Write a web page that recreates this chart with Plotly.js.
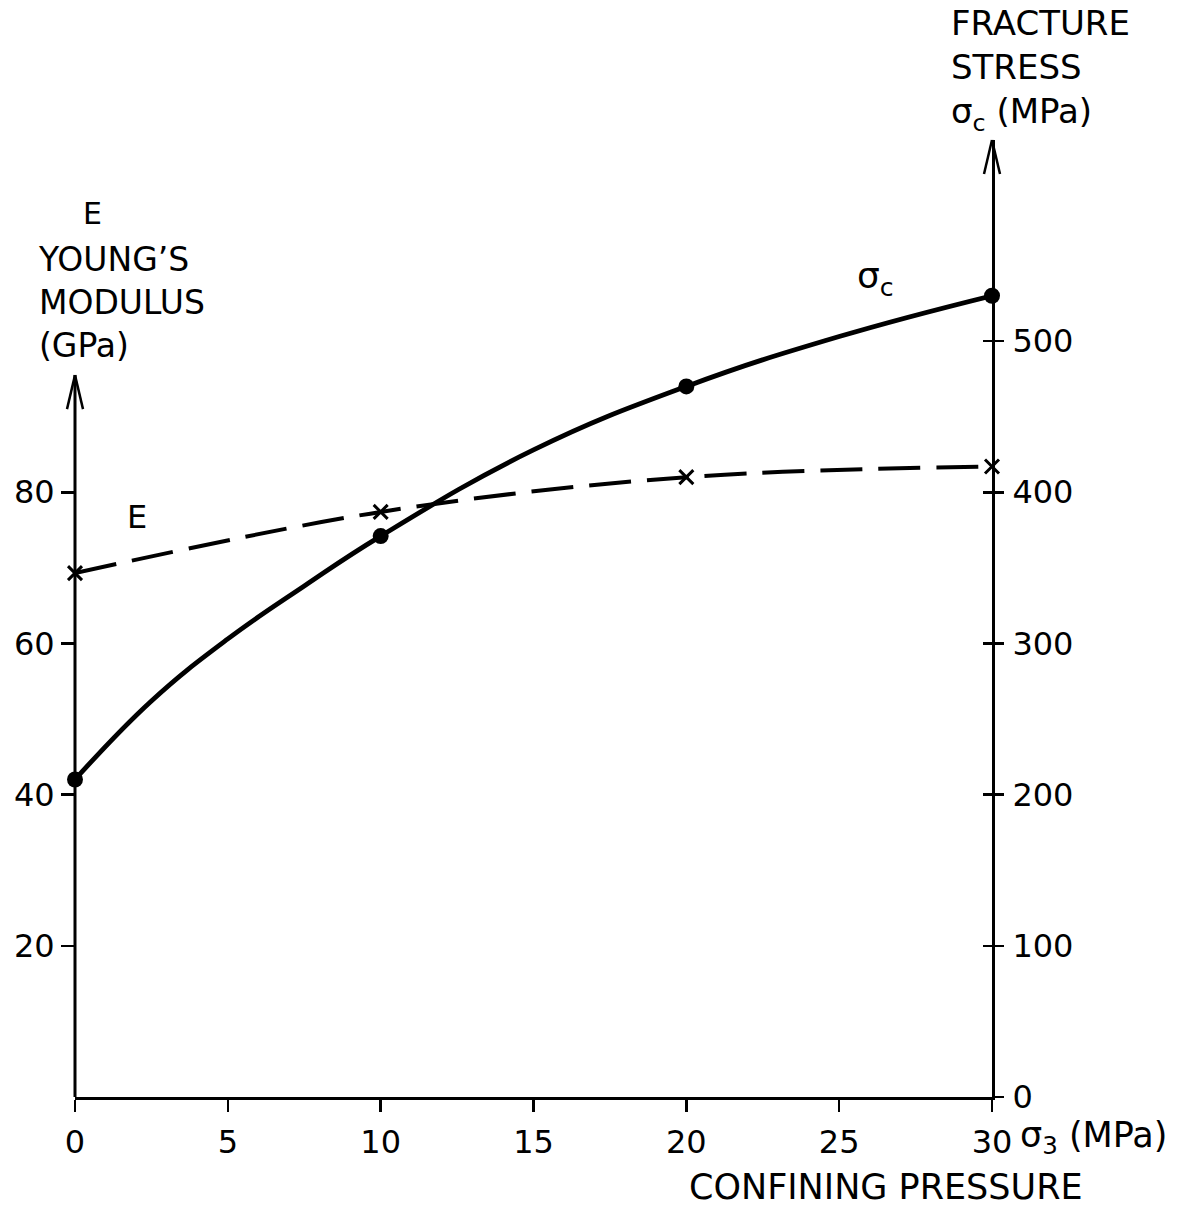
<!DOCTYPE html>
<html><head><meta charset="utf-8">
<script src="https://cdn.plot.ly/plotly-3.0.1.min.js"></script>
<style>html,body{margin:0;padding:0;background:#fff}</style>
</head><body><div id="chart" style="width:1200px;height:1209px"></div>
<script>
const confiningPressure = [0, 10, 20, 30];          // sigma_3 (MPa)
const youngsModulus = [69.3, 77.4, 82.0, 83.4];     // E (GPa)
const fractureStress = [210, 371, 470, 530];        // sigma_c (MPa)
// Hand-drawn sigma_c curve at these pressures
const sigmaCurveX = [0, 2.5, 5, 7.5, 10, 15, 20, 25, 30];
const sigmaCurveY = [210, 262, 303, 338, 371, 428, 470, 503, 530];
const xTickVals = [0, 5, 10, 15, 20, 25, 30];
const leftTickVals = [20, 40, 60, 80];
const rightTickVals = [0, 100, 200, 300, 400, 500];
const leftAxisTop = 95.5;   // GPa, where the left arrow ends

const FONT = 'DejaVu Sans, Liberation Sans, sans-serif';
const ML = 75, MR = 208, MT = 140, MB = 112, W = 1200, H = 1209;
const PW = W - ML - MR, PH = H - MT - MB;
const Y_MAX = 126.6, Y2_MAX = 633;
const px = v => (v - ML) / PW;
const py = v => (H - MB - v) / PH;

const traces = [
  {
    x: confiningPressure, y: youngsModulus, yaxis: 'y', type: 'scatter', mode: 'lines+markers',
    line: {color: '#000', width: 4, dash: '42px,16px', shape: 'spline', smoothing: 1},
    marker: {symbol: 'x-thin-open', size: 14, line: {color: '#000', width: 3}},
    cliponaxis: false, showlegend: false, hoverinfo: 'skip'
  },
  {
    x: sigmaCurveX, y: sigmaCurveY, yaxis: 'y2', type: 'scatter', mode: 'lines',
    line: {color: '#000', width: 4.8, shape: 'spline', smoothing: 1.2},
    cliponaxis: false, showlegend: false, hoverinfo: 'skip'
  },
  {
    x: confiningPressure, y: fractureStress, yaxis: 'y2', type: 'scatter', mode: 'markers',
    marker: {symbol: 'circle', size: 16, color: '#000'},
    cliponaxis: false, showlegend: false, hoverinfo: 'skip'
  },
  {x: [], y: [], yaxis: 'y3', type: 'scatter', mode: 'markers', showlegend: false, hoverinfo: 'skip'}
];

const tickFont = {family: FONT, size: 32, color: '#000'};
const axisLine = {color: '#000', width: 3};
const headLine = {color: '#000', width: 2.5};
const leftTopPaper = leftAxisTop / Y_MAX;
const layout = {
  width: W, height: H,
  margin: {l: ML, r: MR, t: MT, b: MB, pad: 0},
  paper_bgcolor: '#fff', plot_bgcolor: '#fff',
  font: {family: FONT, color: '#000'},
  showlegend: false,
  xaxis: {
    range: [0, 30], tickvals: xTickVals, ticktext: xTickVals.map(String),
    showline: true, linewidth: 3, linecolor: '#000',
    ticks: 'outside', ticklen: 12, tickwidth: 2.5, tickcolor: '#000',
    showgrid: false, zeroline: false, tickfont: tickFont, ticklabelstandoff: 3
  },
  yaxis: {
    range: [0, Y_MAX], tickvals: leftTickVals, ticktext: leftTickVals.map(String),
    showline: false, ticks: 'outside', ticklen: 13, tickwidth: 2.5, tickcolor: '#000',
    showgrid: false, zeroline: false, tickfont: tickFont, ticklabelstandoff: 0
  },
  yaxis2: {
    range: [0, Y2_MAX], overlaying: 'y', side: 'right', anchor: 'x',
    tickvals: rightTickVals, ticktext: rightTickVals.map(String),
    showline: true, linewidth: 3, linecolor: '#000',
    ticks: 'outside', ticklen: 9, tickwidth: 2.5, tickcolor: '#000',
    showgrid: false, zeroline: false, tickfont: tickFont, ticklabelstandoff: 2
  },
  yaxis3: {
    range: [0, Y2_MAX], overlaying: 'y', side: 'right', anchor: 'x',
    tickvals: rightTickVals, showticklabels: false, showline: false,
    ticks: 'inside', ticklen: 9, tickwidth: 2.5, tickcolor: '#000',
    showgrid: false, zeroline: false
  },
  shapes: [
    {type: 'line', xref: 'paper', yref: 'paper', x0: 0, y0: 0, x1: 0, y1: leftTopPaper, line: axisLine},
    {type: 'line', xref: 'paper', yref: 'paper', xsizemode: 'pixel', ysizemode: 'pixel',
     xanchor: 0, yanchor: leftTopPaper, x0: -8, y0: -34, x1: 0, y1: 0, line: headLine},
    {type: 'line', xref: 'paper', yref: 'paper', xsizemode: 'pixel', ysizemode: 'pixel',
     xanchor: 0, yanchor: leftTopPaper, x0: 8, y0: -34, x1: 0, y1: 0, line: headLine},
    {type: 'line', xref: 'paper', yref: 'paper', xsizemode: 'pixel', ysizemode: 'pixel',
     xanchor: 1, yanchor: 1, x0: -8, y0: -34, x1: 0, y1: 0, line: headLine},
    {type: 'line', xref: 'paper', yref: 'paper', xsizemode: 'pixel', ysizemode: 'pixel',
     xanchor: 1, yanchor: 1, x0: 8, y0: -34, x1: 0, y1: 0, line: headLine}
  ],
  annotations: [
    {text: 'E', xref: 'paper', yref: 'paper', x: px(92), y: py(213), xanchor: 'center', yanchor: 'middle',
     showarrow: false, font: {family: FONT, size: 30, color: '#000'}},
    {text: "YOUNG’S<br>MODULUS<br>(GPa)", xref: 'paper', yref: 'paper', x: px(36), y: py(302),
     xanchor: 'left', yanchor: 'middle', align: 'left', showarrow: false,
     font: {family: FONT, size: 33, color: '#000'}},
    {text: 'FRACTURE<br>STRESS<br>σ<sub>c</sub> (MPa)', xref: 'paper', yref: 'paper', x: px(949), y: py(70),
     xanchor: 'left', yanchor: 'middle', align: 'left', showarrow: false,
     font: {family: FONT, size: 34, color: '#000'}},
    {text: 'σ<sub>c</sub>', xref: 'paper', yref: 'paper', x: px(855), y: py(278),
     xanchor: 'left', yanchor: 'middle', showarrow: false, font: {family: FONT, size: 36, color: '#000'}},
    {text: 'E', xref: 'paper', yref: 'paper', x: px(137), y: py(517),
     xanchor: 'center', yanchor: 'middle', showarrow: false, font: {family: FONT, size: 32, color: '#000'}},
    {text: 'σ<sub>3</sub> (MPa)', xref: 'paper', yref: 'paper', x: px(1018), y: py(1137),
     xanchor: 'left', yanchor: 'middle', showarrow: false, font: {family: FONT, size: 35, color: '#000'}},
    {text: 'CONFINING PRESSURE', xref: 'paper', yref: 'paper', x: px(886), y: py(1187),
     xanchor: 'center', yanchor: 'middle', showarrow: false, font: {family: FONT, size: 35, color: '#000'}}
  ]
};

Plotly.newPlot('chart', traces, layout, {staticPlot: true, displayModeBar: false});
</script>
</body></html>
